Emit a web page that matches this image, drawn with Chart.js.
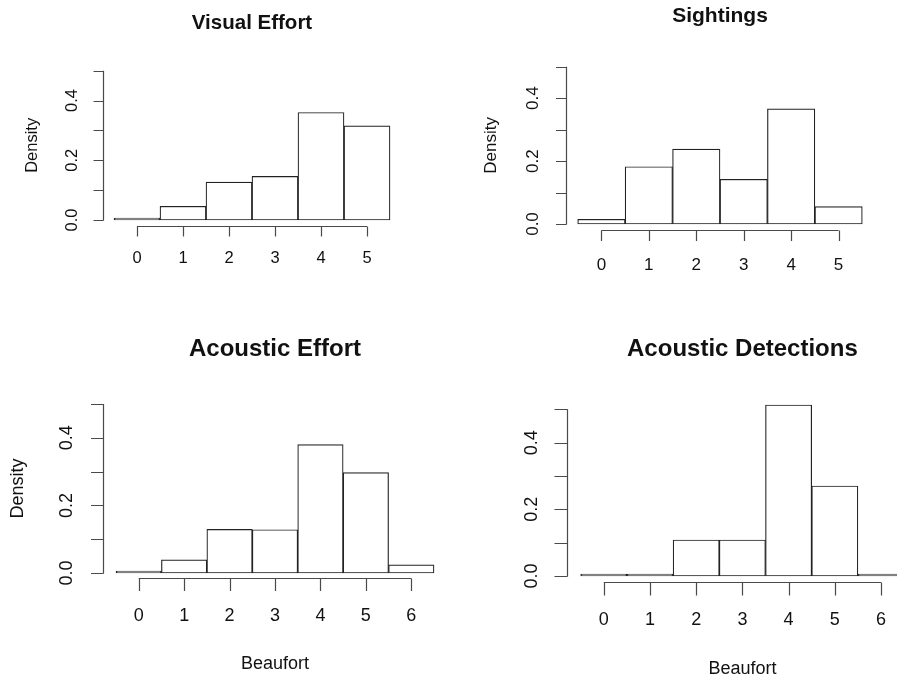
<!DOCTYPE html>
<html>
<head>
<meta charset="utf-8">
<script src="https://cdn.jsdelivr.net/npm/chart.js@4.4.1/dist/chart.umd.min.js"></script>
<style>
  html, body { margin: 0; padding: 0; background: #fff; width: 897px; height: 679px; overflow: hidden; }
  canvas { position: absolute; left: 0; top: 0; }
</style>
</head>
<body>
<canvas id="visual" width="920" height="679"></canvas>
<canvas id="sightings" width="920" height="679"></canvas>
<canvas id="acEffort" width="920" height="679"></canvas>
<canvas id="acDetect" width="920" height="679"></canvas>
<script>
// Beaufort bins
const beaufortTop = [0, 1, 2, 3, 4, 5];
const beaufortBottom = [0, 1, 2, 3, 4, 5, 6];

// densities
const visualEffort = [0.003, 0.046, 0.127, 0.146, 0.360, 0.315];
const sightings = [0.015, 0.182, 0.238, 0.142, 0.366, 0.055];
const acousticEffort = [0.002, 0.039, 0.129, 0.128, 0.380, 0.297, 0.024];
const acousticDetections = [0, 0, 0.108, 0.108, 0.513, 0.270, 0];

// y axis ticks and the ones that get a label
const densityTicks = [0, 0.1, 0.2, 0.3, 0.4, 0.5];
const densityLabels = [0, 0.2, 0.4];

const FONT = '"Liberation Sans", Arial, Helvetica, sans-serif';

// draws R style base-graphics axes, detached from the plot region
const rAxes = {
  id: "rAxes",
  afterDraw(chart, args, o) {
    const ctx = chart.ctx;
    const xs = chart.scales.x;
    const ys = chart.scales.y;
    ctx.save();
    ctx.strokeStyle = "#4a4a4a";
    ctx.lineWidth = 1.2;

    const ax = Math.round(o.yAxisX) + 0.5;
    const yTop = ys.getPixelForValue(densityTicks[densityTicks.length - 1]);
    const yBot = ys.getPixelForValue(densityTicks[0]);
    ctx.beginPath();
    ctx.moveTo(ax, yBot + 0.5);
    ctx.lineTo(ax, yTop);
    densityTicks.forEach((v) => {
      const p = Math.round(ys.getPixelForValue(v)) + 0.5;
      ctx.moveTo(ax - o.tickLen, p);
      ctx.lineTo(ax, p);
    });

    const ay = Math.round(o.xAxisY) + 0.5;
    const xl = xs.getPixelForValue(o.bins[0]);
    const xr = xs.getPixelForValue(o.bins[o.bins.length - 1]);
    ctx.moveTo(xl, ay);
    ctx.lineTo(xr, ay);
    o.bins.forEach((v) => {
      const p = Math.round(xs.getPixelForValue(v)) + 0.5;
      ctx.moveTo(p, ay);
      ctx.lineTo(p, ay + o.tickLen);
    });
    ctx.stroke();

    ctx.fillStyle = "#111";
    ctx.textAlign = "center";
    ctx.textBaseline = "middle";
    ctx.font = o.tickSize + "px " + FONT;
    o.bins.forEach((v) => {
      ctx.fillText(String(v), xs.getPixelForValue(v), o.xLabelY);
    });
    densityLabels.forEach((v) => {
      ctx.save();
      ctx.translate(o.yLabelX, ys.getPixelForValue(v));
      ctx.rotate(-Math.PI / 2);
      ctx.fillText(v.toFixed(1), 0, 0);
      ctx.restore();
    });

    ctx.font = o.labSize + "px " + FONT;
    if (o.ylab) {
      ctx.save();
      ctx.translate(o.ylabX, (yTop + yBot) / 2);
      ctx.rotate(-Math.PI / 2);
      ctx.fillText(o.ylab, 0, 0);
      ctx.restore();
    }
    if (o.xlab) {
      ctx.fillText(o.xlab, (chart.chartArea.left + chart.chartArea.right) / 2, o.xlabY);
    }

    ctx.font = "bold " + o.titleSize + "px " + FONT;
    ctx.fillText(o.title, (chart.chartArea.left + chart.chartArea.right) / 2, o.titleY);
    ctx.restore();
  },
};

function makeHist(id, bins, values, area, axes) {
  const W = 920, H = 679;
  new Chart(document.getElementById(id), {
    type: "bar",
    data: {
      datasets: [
        {
          data: bins.map((b, i) => ({ x: b, y: values[i] })),
          backgroundColor: "#ffffff",
          borderColor: "#222",
          borderWidth: 1.2,
          borderSkipped: false,
          minBarLength: 2,
          barPercentage: 1,
          categoryPercentage: 1,
          clip: false,
        },
      ],
    },
    options: {
      responsive: false,
      animation: false,
      layout: {
        padding: { left: area.left, right: W - area.right, top: area.top, bottom: H - area.bottom },
      },
      scales: {
        x: { type: "linear", min: bins[0] - 0.5, max: bins[bins.length - 1] + 0.5, offset: false, display: false },
        y: { min: 0, max: 0.5, display: false },
      },
      plugins: {
        legend: { display: false },
        tooltip: { enabled: false },
        rAxes: Object.assign({ bins: bins }, axes),
      },
    },
    plugins: [rAxes],
  });
}

makeHist("visual", beaufortTop, visualEffort,
  { left: 114, right: 390, top: 70.7, bottom: 220 },
  { title: "Visual Effort", titleY: 23, titleSize: 20.5, yAxisX: 103, xAxisY: 225.5, tickLen: 10,
    xLabelY: 258, yLabelX: 72, tickSize: 16.5, labSize: 16.5, ylab: "Density", ylabX: 32 });

makeHist("sightings", beaufortTop, sightings,
  { left: 577.7, right: 862.3, top: 66.7, bottom: 224 },
  { title: "Sightings", titleY: 16, titleSize: 21, yAxisX: 565.5, xAxisY: 230, tickLen: 10.5,
    xLabelY: 265, yLabelX: 533, tickSize: 17, labSize: 17, ylab: "Density", ylabX: 491.7 });

makeHist("acEffort", beaufortBottom, acousticEffort,
  { left: 116, right: 434, top: 404, bottom: 573 },
  { title: "Acoustic Effort", titleY: 349.5, titleSize: 24, yAxisX: 103, xAxisY: 578.3, tickLen: 12.5,
    xLabelY: 616, yLabelX: 66.7, tickSize: 18, labSize: 18, ylab: "Density", ylabX: 18.3,
    xlab: "Beaufort", xlabY: 664.3 });

makeHist("acDetect", beaufortBottom, acousticDetections,
  { left: 580.7, right: 904.1, top: 409.3, bottom: 576 },
  { title: "Acoustic Detections", titleY: 349.5, titleSize: 24, yAxisX: 567.3, xAxisY: 582.3, tickLen: 13,
    xLabelY: 620, yLabelX: 531.7, tickSize: 18, labSize: 18, xlab: "Beaufort", xlabY: 669.3 });
</script>
</body>
</html>
